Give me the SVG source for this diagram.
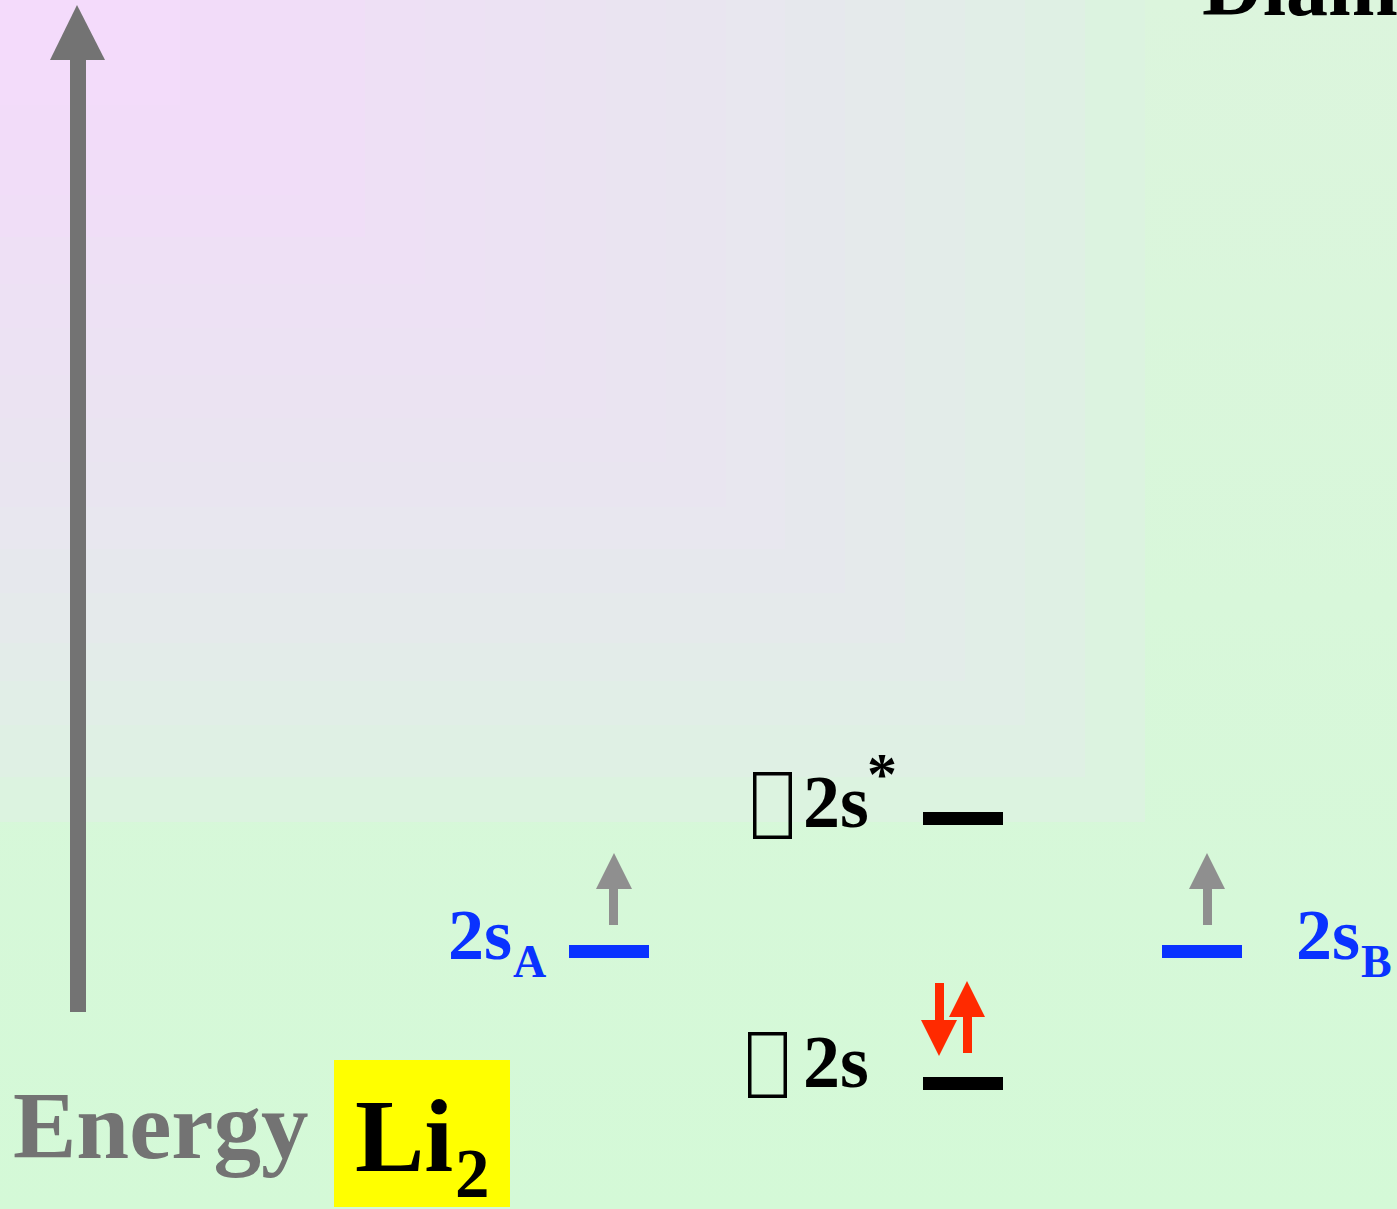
<svg xmlns="http://www.w3.org/2000/svg" width="1397" height="1209" viewBox="0 0 1397 1209">
  <defs>
    <linearGradient id="outer" x1="0" y1="0" x2="0" y2="1">
      <stop offset="0" stop-color="#dcf5dd"/>
      <stop offset="1" stop-color="#d4f9d7"/>
    </linearGradient>
  </defs>
  <style>
    text { font-family: "Liberation Serif", "Times New Roman", serif; font-weight: bold; }
    .black { fill: #000000; }
    .blue { fill: #0a32ff; }
    .lvl-mo { fill: #000000; }
    .lvl-ao { fill: #0a32ff; }
    .spin-gray { fill: #8f8f8f; }
    .spin-red { fill: #ff2a00; }
    .sig { font-size: 74px; }
    .tofu { fill: none; stroke: #000000; stroke-width: 3.5; }
  </style>

  <g id="background">
    <rect x="0" y="0" width="1397" height="1209" fill="url(#outer)"/>
    <rect x="0" y="0" width="1145" height="822" fill="#dcf3e0"/>
    <rect x="0" y="0" width="1085" height="777" fill="#dff0e4"/>
    <rect x="0" y="0" width="1025" height="725" fill="#e1eee7"/>
    <rect x="0" y="0" width="965" height="681" fill="#e3ece9"/>
    <rect x="0" y="0" width="905" height="643" fill="#e5eaeb"/>
    <rect x="0" y="0" width="845" height="593" fill="#e6e8ed"/>
    <rect x="0" y="0" width="785" height="549" fill="#e8e7ef"/>
    <rect x="0" y="0" width="726" height="507" fill="#e9e5f0"/>
    <rect x="0" y="0" width="666" height="462" fill="#eae4f1"/>
    <rect x="0" y="0" width="606" height="418" fill="#ebe3f2"/>
    <rect x="0" y="0" width="545" height="375" fill="#ece2f3"/>
    <rect x="0" y="0" width="485" height="328" fill="#ede1f4"/>
    <rect x="0" y="0" width="425" height="284" fill="#eee0f5"/>
    <rect x="0" y="0" width="365" height="237" fill="#f0def7"/>
    <rect x="0" y="0" width="300" height="195" fill="#f1ddf8"/>
    <rect x="0" y="0" width="240" height="150" fill="#f2dcf9"/>
    <rect x="0" y="0" width="180" height="105" fill="#f3dcfa"/>
    <rect x="0" y="0" width="120" height="60" fill="#f4dbfb"/>
  </g>

  <g id="title">
    <text x="1202" y="15" font-size="84" class="black">Diamagnetic</text>
  </g>

  <g id="energy-axis">
    <rect x="70" y="58" width="16" height="954" fill="#737373"/>
    <polygon points="77,5 105,60 50,60" fill="#737373"/>
    <text x="13" y="1158" font-size="95" fill="#737373">Energy</text>
  </g>

  <g id="molecule-label">
    <rect x="334" y="1060" width="176" height="147" fill="#ffff00"/>
    <text x="355" y="1171" font-size="104" class="black">Li</text>
    <text x="455" y="1197" font-size="69" class="black">2</text>
  </g>

  <g id="ao-2sA">
    <text x="448" y="959" font-size="72" class="blue">2s</text>
    <text x="513" y="977" font-size="46" class="blue">A</text>
    <rect x="569" y="945" width="80" height="13" class="lvl-ao"/>
    <rect x="609" y="887" width="9" height="38" class="spin-gray"/>
    <polygon points="614,853 632,889 596,889" class="spin-gray"/>
  </g>

  <g id="ao-2sB">
    <text x="1296" y="959" font-size="72" class="blue">2s</text>
    <text x="1361" y="977" font-size="46" class="blue">B</text>
    <rect x="1162" y="945" width="80" height="13" class="lvl-ao"/>
    <rect x="1203" y="887" width="9" height="38" class="spin-gray"/>
    <polygon points="1207,853 1225,889 1189,889" class="spin-gray"/>
  </g>

  <g id="mo-sigma2s-star">
    <rect x="754.75" y="773.75" width="35.5" height="63.5" class="tofu"/>
    <text x="803" y="827" class="sig black">2s</text>
    <text x="867" y="794" font-size="60" class="black">*</text>
    <rect x="923" y="812" width="80" height="13" class="lvl-mo"/>
  </g>

  <g id="mo-sigma2s">
    <rect x="749.75" y="1033.75" width="35.5" height="62.5" class="tofu"/>
    <text x="803" y="1087" class="sig black">2s</text>
    <rect x="923" y="1077" width="80" height="13" class="lvl-mo"/>
    <rect x="935" y="983" width="9" height="39" class="spin-red"/>
    <polygon points="921,1020 957,1020 939,1056" class="spin-red"/>
    <rect x="963" y="1015" width="9" height="38" class="spin-red"/>
    <polygon points="967,981 985,1017 949,1017" class="spin-red"/>
  </g>

  <g id="connectors"></g>
</svg>
